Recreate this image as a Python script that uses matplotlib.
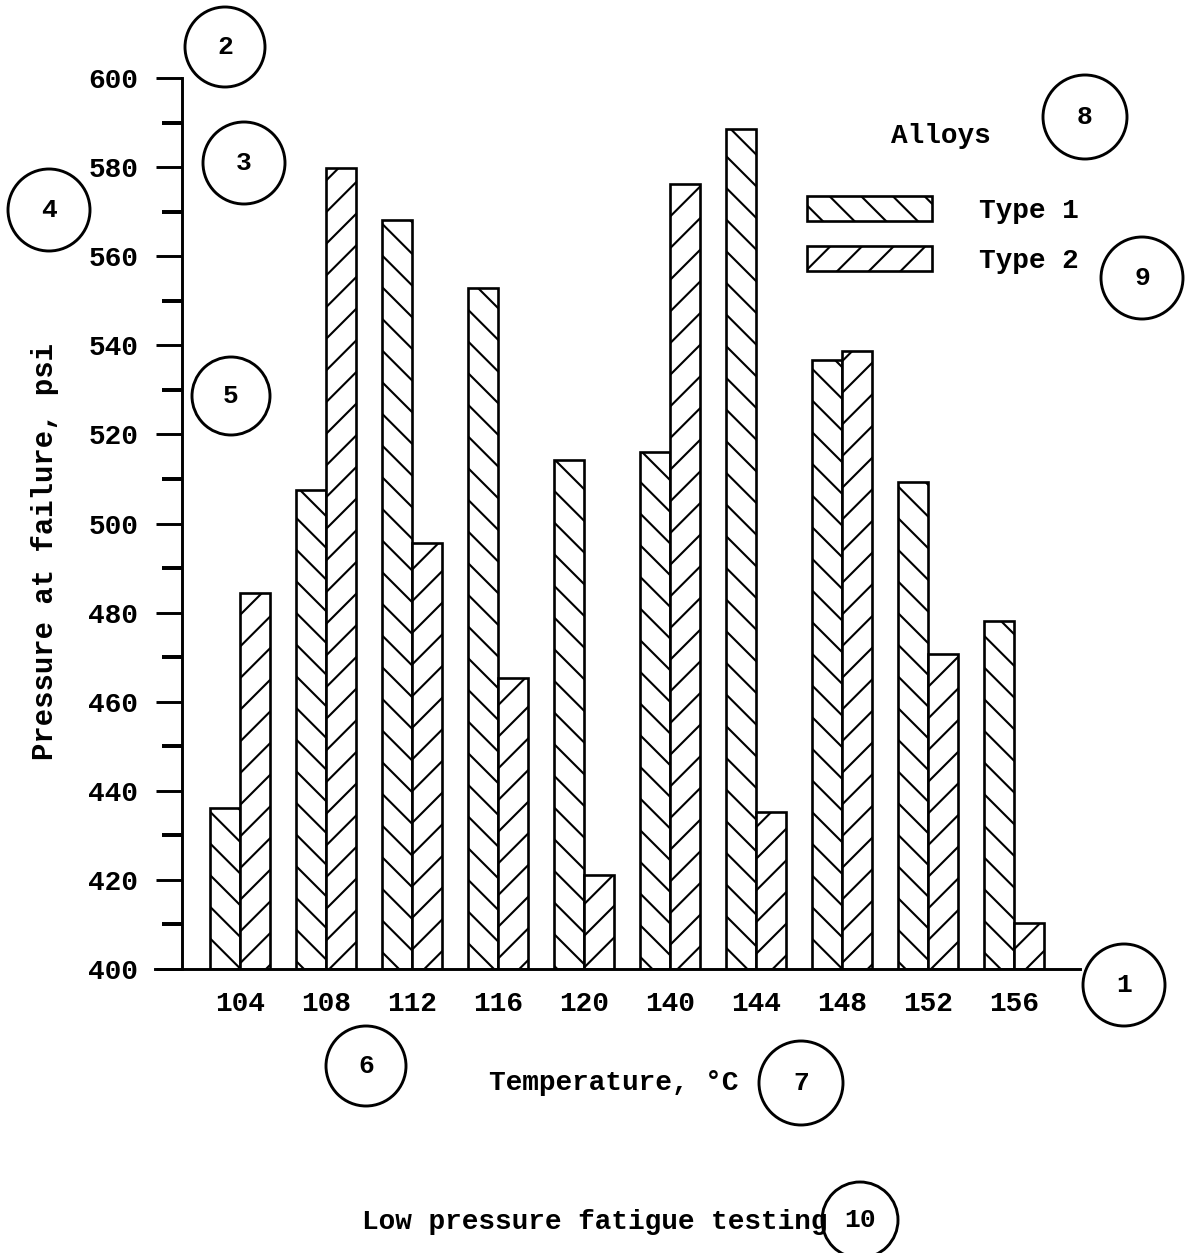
import matplotlib
matplotlib.use("Agg")
import matplotlib.pyplot as plt
from matplotlib.patches import Ellipse, Patch
import numpy as np

# ---- data ----
temperatures = ["104", "108", "112", "116", "120", "140", "144", "148", "152", "156"]
type1_psi = [436.2, 507.5, 568.1, 552.9, 514.3, 516.1, 588.6, 536.7, 509.4, 478.1]
type2_psi = [484.5, 579.7, 495.7, 465.3, 421.1, 576.2, 435.3, 538.7, 470.6, 410.4]
series_labels = ["Type 1", "Type 2"]
y_major = [400, 420, 440, 460, 480, 500, 520, 540, 560, 580, 600]
y_minor = [410, 430, 450, 470, 490, 510, 530, 550, 570, 590]
callout_numbers = ["1", "2", "3", "4", "5", "6", "7", "8", "9", "10"]

W, H = 1185, 1253
DPI = 190
FONT = ["Liberation Mono", "DejaVu Sans Mono"]
FS = 10.5

plt.rcParams["font.family"] = FONT
plt.rcParams["font.weight"] = "bold"
plt.rcParams["hatch.linewidth"] = 0.8
plt.rcParams["hatch.color"] = "black"

HATCH1 = "\\\\"
HATCH2 = "//"

fig = plt.figure(figsize=(W / DPI, H / DPI), dpi=DPI)
fig.patch.set_facecolor("white")

def fx(px):
    return px / W

def fy(py):
    return 1 - py / H

ax_left, ax_right, ax_top, ax_bottom = 155, 1080, 78, 969
ax = fig.add_axes([fx(ax_left), fy(ax_bottom), fx(ax_right - ax_left), (ax_bottom - ax_top) / H])

x = np.arange(len(temperatures))
w = 0.345
ax.bar(x - w / 2, np.array(type1_psi) - 400, bottom=400, width=w,
       facecolor="white", edgecolor="black", linewidth=1.0, hatch=HATCH1)
ax.bar(x + w / 2, np.array(type2_psi) - 400, bottom=400, width=w,
       facecolor="white", edgecolor="black", linewidth=1.0, hatch=HATCH2)

ax.set_xlim(-0.988, 9.767)
ax.set_ylim(400, 600)

for s in ["top", "right"]:
    ax.spines[s].set_visible(False)
ax.spines["left"].set_position(("data", -0.674))
ax.spines["left"].set_linewidth(1.1)
ax.spines["bottom"].set_linewidth(1.1)

ax.set_yticks(y_major)
ax.set_yticklabels([str(v) for v in y_major])
ax.set_yticks(y_minor, minor=True)
ax.tick_params(axis="y", which="major", direction="out", length=9.8, width=1.1,
               pad=6.8, labelsize=FS)
ax.tick_params(axis="y", which="minor", direction="out", length=7.5, width=1.5)
ax.set_xticks(x)
ax.set_xticklabels(temperatures)
ax.tick_params(axis="x", which="both", length=0, pad=8.5, labelsize=FS)
for lab in ax.get_xticklabels() + ax.get_yticklabels():
    lab.set_fontweight("bold")

# axis labels and title
fig.text(fx(45), fy(552), "Pressure at failure, psi", rotation=90, ha="center", va="center",
         fontsize=FS + 0.5, fontweight="bold")
fig.text(fx(614), fy(1083), "Temperature, °C", ha="center", va="center",
         fontsize=FS, fontweight="bold")
fig.text(fx(595), fy(1222), "Low pressure fatigue testing", ha="center", va="center",
         fontsize=FS, fontweight="bold")

# legend
fig.text(fx(941), fy(136), "Alloys", ha="center", va="center", fontsize=FS, fontweight="bold")
handles = [Patch(facecolor="white", edgecolor="black", linewidth=1.0, hatch=HATCH1),
           Patch(facecolor="white", edgecolor="black", linewidth=1.0, hatch=HATCH2)]
fig.legend(handles, series_labels, loc="upper left", bbox_to_anchor=(fx(807), fy(196)),
           frameon=False, borderpad=0, borderaxespad=0, handlelength=4.5,
           handleheight=1.0, handletextpad=1.7, labelspacing=0.8,
           prop={"family": FONT, "weight": "bold", "size": FS})

# numbered callout circles
circles = [(1124, 985, 41), (225, 47, 40), (244, 163, 41), (49, 210, 41), (231, 396, 39),
           (366, 1066, 40), (801, 1083, 42), (1085, 117, 42), (1142, 278, 41), (860, 1220, 38)]
for num, (cx, cy, r) in zip(callout_numbers, circles):
    e = Ellipse((fx(cx), fy(cy)), 2 * r / W, 2 * r / H, transform=fig.transFigure,
                facecolor="none", edgecolor="black", linewidth=1.1)
    fig.add_artist(e)
    fig.text(fx(cx), fy(cy), num, ha="center", va="center", fontsize=FS - 0.5, fontweight="bold")

fig.savefig("out.png", dpi=DPI, facecolor="white")
